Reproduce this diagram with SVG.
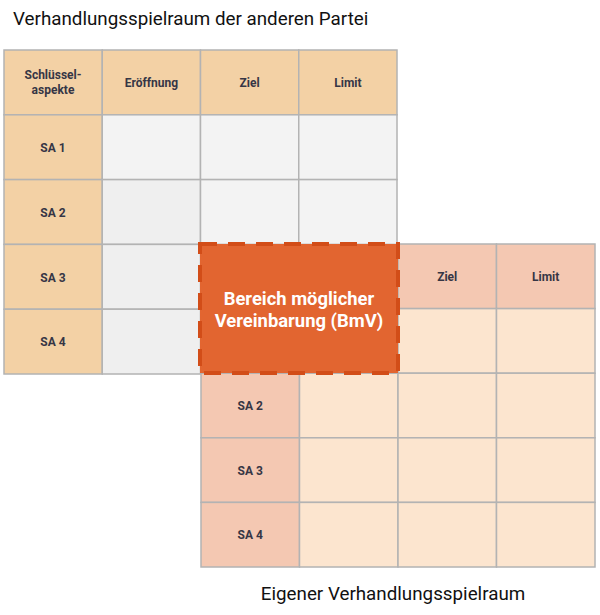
<svg xmlns="http://www.w3.org/2000/svg" width="600" height="615" viewBox="0 0 600 615">
<style>
.grid{stroke:#b3b3b3;stroke-width:1.5}
.h1{fill:#f3d1a5}
.g1{fill:#f3f3f3}
.g2{fill:#efefef}
.h2{fill:#f4c8b2}
.c2{fill:#fce5cf}
.lbl{font-family:Roboto,"Liberation Sans",sans-serif;font-weight:bold;font-size:12px;fill:#363645;text-anchor:middle}
.ttl{font-family:Roboto,"Liberation Sans",sans-serif;font-size:18.8px;fill:#111}
.bmv{font-family:Roboto,"Liberation Sans",sans-serif;font-weight:bold;font-size:18.4px;fill:#ffffff;text-anchor:middle}
</style>
<rect width="600" height="615" fill="#ffffff"/>
<text class="ttl" x="13" y="25">Verhandlungsspielraum der anderen Partei</text>
<g id="tabelle-andere-partei">
  <g class="grid">
    <rect class="h1" x="4" y="50" width="98.25" height="64.8"/>
    <rect class="h1" x="102.25" y="50" width="98.25" height="64.8"/>
    <rect class="h1" x="200.5" y="50" width="98.25" height="64.8"/>
    <rect class="h1" x="298.75" y="50" width="98.25" height="64.8"/>
    <rect class="h1" x="4" y="114.8" width="98.25" height="64.8"/>
    <rect class="g1" x="102.25" y="114.8" width="98.25" height="64.8"/>
    <rect class="g1" x="200.5" y="114.8" width="98.25" height="64.8"/>
    <rect class="g1" x="298.75" y="114.8" width="98.25" height="64.8"/>
    <rect class="h1" x="4" y="179.6" width="98.25" height="64.8"/>
    <rect class="g2" x="102.25" y="179.6" width="98.25" height="64.8"/>
    <rect class="g1" x="200.5" y="179.6" width="98.25" height="64.8"/>
    <rect class="g1" x="298.75" y="179.6" width="98.25" height="64.8"/>
    <rect class="h1" x="4" y="244.4" width="98.25" height="64.8"/>
    <rect class="g2" x="102.25" y="244.4" width="98.25" height="64.8"/>
    <rect class="h1" x="4" y="309.2" width="98.25" height="64.8"/>
    <rect class="g2" x="102.25" y="309.2" width="98.25" height="64.8"/>
  </g>
  <text class="lbl" x="53" y="79">Schlüssel-</text>
  <text class="lbl" x="53" y="94">aspekte</text>
  <text class="lbl" x="151.4" y="87">Eröffnung</text>
  <text class="lbl" x="249.6" y="87">Ziel</text>
  <text class="lbl" x="347.9" y="87">Limit</text>
  <text class="lbl" x="53" y="152">SA 1</text>
  <text class="lbl" x="53" y="216.5">SA 2</text>
  <text class="lbl" x="53" y="281.5">SA 3</text>
  <text class="lbl" x="53" y="346">SA 4</text>
</g>
<g id="tabelle-eigene">
  <g class="grid">
    <rect class="h2" x="398" y="244" width="98.5" height="64.6"/>
    <rect class="h2" x="496.5" y="244" width="98.5" height="64.6"/>
    <rect class="c2" x="398" y="308.6" width="98.5" height="64.6"/>
    <rect class="c2" x="496.5" y="308.6" width="98.5" height="64.6"/>
    <rect class="h2" x="201" y="373.2" width="98.5" height="64.6"/>
    <rect class="c2" x="299.5" y="373.2" width="98.5" height="64.6"/>
    <rect class="c2" x="398" y="373.2" width="98.5" height="64.6"/>
    <rect class="c2" x="496.5" y="373.2" width="98.5" height="64.6"/>
    <rect class="h2" x="201" y="437.8" width="98.5" height="64.6"/>
    <rect class="c2" x="299.5" y="437.8" width="98.5" height="64.6"/>
    <rect class="c2" x="398" y="437.8" width="98.5" height="64.6"/>
    <rect class="c2" x="496.5" y="437.8" width="98.5" height="64.6"/>
    <rect class="h2" x="201" y="502.4" width="98.5" height="64.6"/>
    <rect class="c2" x="299.5" y="502.4" width="98.5" height="64.6"/>
    <rect class="c2" x="398" y="502.4" width="98.5" height="64.6"/>
    <rect class="c2" x="496.5" y="502.4" width="98.5" height="64.6"/>
  </g>
  <text class="lbl" x="447.2" y="281">Ziel</text>
  <text class="lbl" x="545.7" y="281">Limit</text>
  <text class="lbl" x="250.2" y="410">SA 2</text>
  <text class="lbl" x="250.2" y="474.5">SA 3</text>
  <text class="lbl" x="250.2" y="539">SA 4</text>
</g>
<g id="bmv">
  <rect x="200" y="244" width="198" height="129" fill="#e26530" stroke="#d24d18" stroke-width="4" stroke-dasharray="17 11"/>
  <text class="bmv" x="299" y="305">Bereich möglicher</text>
  <text class="bmv" x="299" y="327">Vereinbarung (BmV)</text>
</g>
<text class="ttl" x="393" y="600" text-anchor="middle">Eigener Verhandlungsspielraum</text>
</svg>
